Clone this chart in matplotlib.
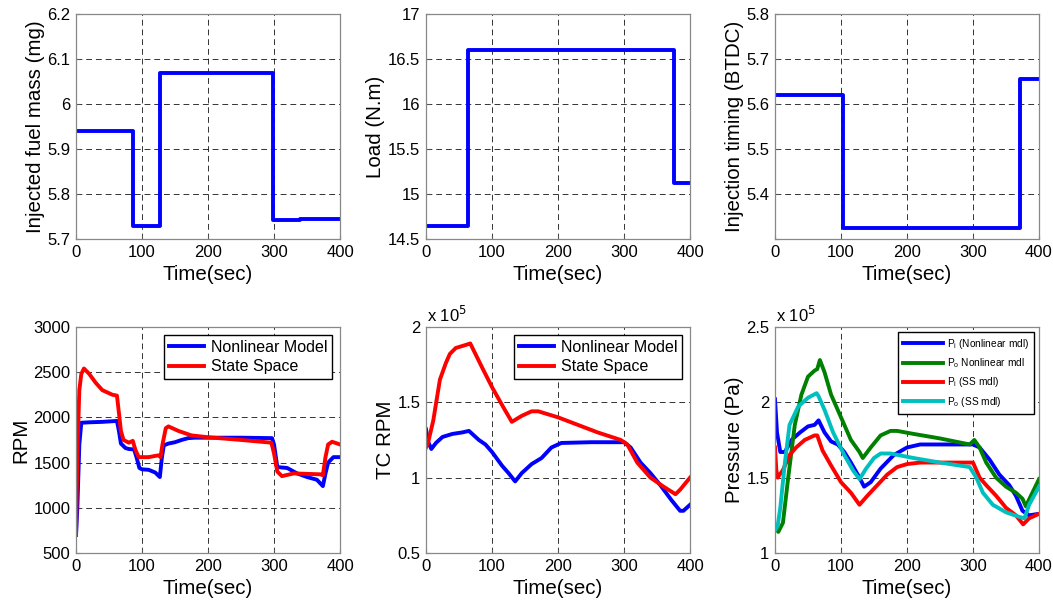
import matplotlib.pyplot as plt

plt.rcParams['font.family'] = ['Liberation Sans', 'DejaVu Sans']

# ---- step inputs (time, value) ----
fuel_t = [0, 87, 127, 298, 340, 400]
fuel_v = [5.94, 5.73, 6.07, 5.742, 5.745, 5.745]

load_t = [0, 63, 376, 400]
load_v = [14.65, 16.6, 15.12, 15.12]

inj_t = [0, 103, 371, 400]
inj_v = [5.62, 5.325, 5.655, 5.655]

# ---- engine speed (RPM) ----
rpm_nl_t = [0, 2, 5, 8, 20, 40, 62, 65, 68, 75, 80, 88, 92, 96, 100, 110, 120, 127,
            130, 133, 140, 150, 160, 170, 180, 200, 250, 297, 300, 305, 320, 335, 350,
            365, 374, 378, 382, 390, 400]
rpm_nl_v = [700, 1000, 1700, 1940, 1945, 1950, 1960, 1850, 1710, 1660, 1650, 1645, 1550,
            1440, 1425, 1420, 1390, 1340, 1550, 1690, 1710, 1725, 1750, 1770, 1775, 1775,
            1775, 1770, 1700, 1450, 1440, 1380, 1340, 1310, 1240, 1380, 1500, 1560, 1560]

rpm_ss_t = [0, 2, 5, 8, 12, 20, 30, 40, 55, 62, 65, 68, 72, 80, 86, 90, 95, 110, 125,
            128, 131, 136, 140, 155, 175, 200, 250, 296, 300, 305, 312, 330, 370, 374,
            378, 382, 388, 400]
rpm_ss_v = [700, 1600, 2300, 2480, 2540, 2480, 2380, 2300, 2250, 2240, 2050, 1850, 1750,
            1720, 1740, 1640, 1560, 1560, 1580, 1560, 1700, 1880, 1900, 1850, 1800, 1780,
            1750, 1720, 1600, 1400, 1350, 1380, 1370, 1360, 1560, 1700, 1730, 1700]

# ---- turbocharger speed (x 1e5 RPM) ----
tc_nl_t = [0, 3, 8, 15, 25, 40, 55, 65, 80, 90, 100, 115, 125, 135, 145, 160, 175, 190,
           205, 250, 300, 310, 325, 340, 355, 372, 385, 390, 400]
tc_nl_v = [1.32, 1.24, 1.19, 1.23, 1.27, 1.29, 1.30, 1.31, 1.25, 1.22, 1.17, 1.08, 1.03,
           0.975, 1.03, 1.09, 1.13, 1.20, 1.23, 1.235, 1.235, 1.20, 1.10, 1.03, 0.95, 0.85,
           0.78, 0.78, 0.82]

tc_ss_t = [0, 3, 11, 21, 30, 36, 45, 60, 67, 85, 100, 118, 130, 145, 160, 170, 200, 230,
           260, 295, 305, 320, 340, 360, 378, 385, 400]
tc_ss_v = [1.20, 1.23, 1.38, 1.65, 1.76, 1.82, 1.86, 1.88, 1.89, 1.73, 1.60, 1.46, 1.37,
           1.41, 1.44, 1.44, 1.40, 1.35, 1.30, 1.25, 1.22, 1.10, 1.00, 0.94, 0.89, 0.92, 1.00]

# ---- manifold pressures (x 1e5 Pa) ----
pi_nl_t = [0, 3, 8, 15, 25, 38, 50, 60, 66, 75, 85, 95, 105, 115, 128, 135, 145, 160, 180,
           200, 220, 300, 310, 325, 340, 355, 365, 375, 385, 400]
pi_nl_v = [2.02, 1.80, 1.67, 1.67, 1.75, 1.80, 1.84, 1.85, 1.88, 1.80, 1.74, 1.72, 1.67,
           1.60, 1.50, 1.44, 1.47, 1.56, 1.65, 1.70, 1.72, 1.72, 1.70, 1.62, 1.52, 1.45,
           1.38, 1.28, 1.25, 1.26]

po_nl_t = [0, 5, 12, 20, 30, 40, 50, 60, 64, 68, 75, 85, 100, 115, 128, 133, 145, 160, 175,
           185, 210, 250, 295, 302, 310, 320, 335, 350, 365, 375, 380, 390, 400]
po_nl_v = [1.17, 1.14, 1.20, 1.50, 1.85, 2.05, 2.17, 2.21, 2.22, 2.28, 2.20, 2.05, 1.90,
           1.75, 1.67, 1.63, 1.70, 1.78, 1.81, 1.81, 1.79, 1.76, 1.72, 1.75, 1.70, 1.60,
           1.50, 1.44, 1.40, 1.36, 1.31, 1.40, 1.49]

pi_ss_t = [0, 2, 4, 12, 22, 32, 45, 60, 64, 72, 85, 100, 115, 128, 140, 155, 170, 185, 200,
           220, 300, 310, 320, 335, 350, 365, 376, 385, 400]
pi_ss_v = [1.70, 1.55, 1.50, 1.55, 1.65, 1.70, 1.75, 1.78, 1.78, 1.68, 1.58, 1.47, 1.40,
           1.32, 1.38, 1.45, 1.52, 1.57, 1.59, 1.60, 1.60, 1.50, 1.45, 1.38, 1.30, 1.25,
           1.19, 1.23, 1.26]

po_ss_t = [0, 4, 8, 15, 22, 35, 50, 63, 66, 75, 88, 105, 118, 128, 138, 150, 160, 175, 210,
           250, 295, 305, 315, 330, 350, 370, 378, 385, 400]
po_ss_v = [1.15, 1.18, 1.30, 1.60, 1.85, 1.97, 2.03, 2.06, 2.04, 1.95, 1.80, 1.65, 1.55,
           1.49, 1.56, 1.63, 1.66, 1.66, 1.63, 1.60, 1.57, 1.50, 1.40, 1.32, 1.27, 1.24,
           1.23, 1.32, 1.44]

TICK_FS = 12
LAB_FS = 14.8
LW = 2.8


def style_axes(ax, ylim, yticks, ylabel):
    ax.set_xlim(0, 400)
    ax.set_xticks([0, 100, 200, 300, 400])
    ax.set_ylim(*ylim)
    ax.set_yticks(yticks)
    ax.grid(True, color='black', linestyle=(0, (6, 4)), linewidth=0.7, alpha=0.8)
    ax.tick_params(direction='in', length=3, labelsize=TICK_FS, color='#555555', pad=4)
    for s in ax.spines.values():
        s.set_color('#888888')
        s.set_linewidth(0.9)
    ax.set_xlabel('Time(sec)', fontsize=LAB_FS, labelpad=4)
    ax.set_ylabel(ylabel, fontsize=LAB_FS, labelpad=2)


def add_legend(ax, fs, hl, spacing, pad):
    ax.legend(loc='upper right', fontsize=fs, fancybox=False, edgecolor='black',
              handlelength=hl, borderpad=pad, labelspacing=spacing, handletextpad=0.4,
              borderaxespad=0.5, framealpha=1)


fig = plt.figure(figsize=(10.53, 6.03), dpi=100)
lefts = [0.0722, 0.4046, 0.736]
w = 0.2507
top_b, top_h = 0.6036, 0.373
bot_b, bot_h = 0.0829, 0.375

ax1 = fig.add_axes([lefts[0], top_b, w, top_h])
ax1.plot(fuel_t, fuel_v, color='#0000ff', lw=LW, drawstyle='steps-post')
style_axes(ax1, (5.7, 6.2), [5.7, 5.8, 5.9, 6.0, 6.1, 6.2], 'Injected fuel mass (mg)')
ax1.set_yticklabels(['5.7', '5.8', '5.9', '6', '6.1', '6.2'])

ax2 = fig.add_axes([lefts[1], top_b, w, top_h])
ax2.plot(load_t, load_v, color='#0000ff', lw=LW, drawstyle='steps-post')
style_axes(ax2, (14.5, 17), [14.5, 15, 15.5, 16, 16.5, 17], 'Load (N.m)')
ax2.set_yticklabels(['14.5', '15', '15.5', '16', '16.5', '17'])

ax3 = fig.add_axes([lefts[2], top_b, w, top_h])
ax3.plot(inj_t, inj_v, color='#0000ff', lw=LW, drawstyle='steps-post')
style_axes(ax3, (5.3, 5.8), [5.3, 5.4, 5.5, 5.6, 5.7, 5.8], 'Injection timing (BTDC)')
ax3.set_yticklabels(['', '5.4', '5.5', '5.6', '5.7', '5.8'])

ax4 = fig.add_axes([lefts[0], bot_b, w, bot_h])
ax4.plot(rpm_nl_t, rpm_nl_v, color='#0000ff', lw=LW, label='Nonlinear Model')
ax4.plot(rpm_ss_t, rpm_ss_v, color='#ff0000', lw=LW, label='State Space')
style_axes(ax4, (500, 3000), [500, 1000, 1500, 2000, 2500, 3000], 'RPM')
add_legend(ax4, 11.5, 2.2, 0.3, 0.3)

ax5 = fig.add_axes([lefts[1], bot_b, w, bot_h])
ax5.plot(tc_nl_t, tc_nl_v, color='#0000ff', lw=LW, label='Nonlinear Model')
ax5.plot(tc_ss_t, tc_ss_v, color='#ff0000', lw=LW, label='State Space')
style_axes(ax5, (0.5, 2.0), [0.5, 1.0, 1.5, 2.0], 'TC RPM')
ax5.set_yticklabels(['0.5', '1', '1.5', '2'])
ax5.text(0.005, 1.01, 'x 10$^5$', transform=ax5.transAxes, fontsize=TICK_FS,
         ha='left', va='bottom')
add_legend(ax5, 11.5, 2.2, 0.3, 0.3)

ax6 = fig.add_axes([lefts[2], bot_b, w, bot_h])
ax6.plot(pi_nl_t, pi_nl_v, color='#0000ff', lw=LW, label='P$_\\mathregular{i}$ (Nonlinear mdl)')
ax6.plot(po_nl_t, po_nl_v, color='#008000', lw=LW, label='P$_\\mathregular{o}$ Nonlinear mdl')
ax6.plot(pi_ss_t, pi_ss_v, color='#ff0000', lw=LW, label='P$_\\mathregular{i}$ (SS mdl)')
ax6.plot(po_ss_t, po_ss_v, color='#00bfbf', lw=LW, label='P$_\\mathregular{o}$ (SS mdl)')
style_axes(ax6, (1.0, 2.5), [1.0, 1.5, 2.0, 2.5], 'Pressure (Pa)')
ax6.set_yticklabels(['1', '1.5', '2', '2.5'])
ax6.text(0.005, 1.01, 'x 10$^5$', transform=ax6.transAxes, fontsize=TICK_FS,
         ha='left', va='bottom')
add_legend(ax6, 7.3, 4.0, 0.55, 0.45)

fig.savefig('out.png', dpi=100)
